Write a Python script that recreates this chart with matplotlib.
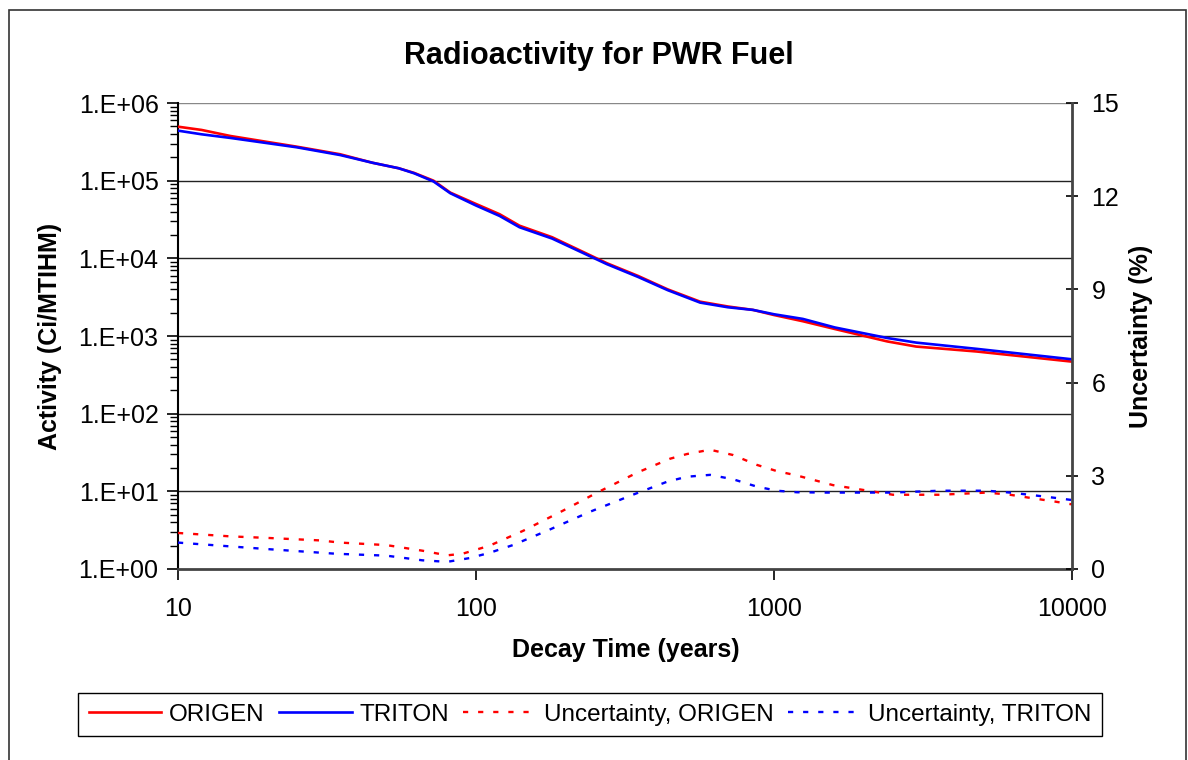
import matplotlib
matplotlib.use("Agg")
import matplotlib.pyplot as plt
from matplotlib.patches import Rectangle
from matplotlib.ticker import LogLocator, NullFormatter, FixedLocator

plt.rcParams['font.family'] = ['Liberation Sans', 'DejaVu Sans']

# Activity (Ci/MTIHM) - log10 values
act_years = [10, 12, 15, 25, 35, 45, 55, 62, 72, 82, 100, 120, 140, 180, 275, 350,
             440, 565, 700, 850, 1000, 1250, 1600, 2400, 3000, 4800, 10000]
origen_log = [5.695, 5.653, 5.575, 5.438, 5.34, 5.23, 5.16, 5.10, 5.00, 4.846, 4.70,
              4.568, 4.42, 4.272, 3.937, 3.773, 3.60, 3.442, 3.38, 3.336, 3.27,
              3.19, 3.09, 2.93, 2.864, 2.80, 2.67]
triton_log = [5.644, 5.597, 5.55, 5.43, 5.33, 5.23, 5.16, 5.095, 4.99, 4.838, 4.68,
              4.546, 4.40, 4.255, 3.925, 3.76, 3.59, 3.43, 3.37, 3.336, 3.28,
              3.22, 3.11, 2.974, 2.915, 2.834, 2.70]
origen_act = [10 ** v for v in origen_log]
triton_act = [10 ** v for v in triton_log]

# Uncertainty (%)
unc_o_years = [10, 15, 20, 30, 35, 50, 66, 80, 90, 111, 144, 196, 255, 347, 448, 510,
               610, 728, 877, 1023, 1194, 1577, 2099, 2506, 3603, 5186, 6194, 7343,
               8771, 10000]
unc_origen = [1.16, 1.05, 1.0, 0.92, 0.85, 0.77, 0.59, 0.44, 0.49, 0.75, 1.23, 1.88,
              2.46, 3.10, 3.55, 3.70, 3.84, 3.67, 3.35, 3.15, 3.01, 2.70, 2.51, 2.39,
              2.39, 2.46, 2.39, 2.28, 2.17, 2.08]
unc_t_years = [10, 20, 34, 50, 66, 80, 95, 111, 133, 173, 241, 336, 438, 510, 610, 728,
               877, 1023, 1194, 1500, 2500, 3600, 5186, 6194, 7343, 8771, 10000]
unc_triton = [0.85, 0.64, 0.49, 0.43, 0.28, 0.23, 0.35, 0.52, 0.77, 1.23, 1.84, 2.39,
              2.81, 2.97, 3.03, 2.89, 2.65, 2.52, 2.47, 2.46, 2.46, 2.52, 2.52, 2.46,
              2.38, 2.29, 2.22]

left_ticks = [1e0, 1e1, 1e2, 1e3, 1e4, 1e5, 1e6]
left_labels = ['1.E+00', '1.E+01', '1.E+02', '1.E+03', '1.E+04', '1.E+05', '1.E+06']
right_ticks = [0, 3, 6, 9, 12, 15]
x_ticks = [10, 100, 1000, 10000]
x_labels = ['10', '100', '1000', '10000']

W, H = 1188, 760
fig = plt.figure(figsize=(W / 100, H / 100), dpi=100)
fig.patches.append(Rectangle((8.5 / W, -0.05), (1186 - 8.5) / W, 1.05 - 10.5 / H,
                             transform=fig.transFigure, fill=False,
                             edgecolor='#333333', linewidth=1.2))

ax = fig.add_axes([178 / W, 1 - 569 / H, (1072 - 178) / W, (569 - 103) / H])
ax.set_xscale('log')
ax.set_yscale('log')
ax.set_xlim(10, 10000)
ax.set_ylim(1, 1e6)

for y in left_ticks[1:]:
    ax.axhline(y, color='#222222' if y < 1e6 else '#888888', linewidth=1.0, zorder=1)

l1, = ax.plot(act_years, origen_act, color='#ff0000', linewidth=1.9, zorder=3, label='ORIGEN')
l2, = ax.plot(act_years, triton_act, color='#0000ff', linewidth=1.9, zorder=4, label='TRITON')

ax.yaxis.set_major_locator(FixedLocator(left_ticks))
ax.set_yticklabels(left_labels)
ax.yaxis.set_minor_locator(LogLocator(base=10, subs=range(2, 10), numticks=20))
ax.yaxis.set_minor_formatter(NullFormatter())
ax.xaxis.set_major_locator(FixedLocator(x_ticks))
ax.set_xticklabels(x_labels)
ax.xaxis.set_minor_locator(FixedLocator([]))

ax.tick_params(axis='both', which='major', labelsize=18, length=8, width=1.2,
               direction='out', pad=6, colors='black')
ax.tick_params(axis='x', which='major', pad=12)
ax.tick_params(axis='y', which='minor', length=6, width=1.0, direction='out')
for s in ['top', 'right']:
    ax.spines[s].set_visible(False)
ax.spines['left'].set_color('black')
ax.spines['left'].set_linewidth(1.5)
ax.spines['bottom'].set_color('#444444')
ax.spines['bottom'].set_linewidth(2.0)

ax2 = ax.twinx()
ax2.set_ylim(0, 15)
ax2.set_yticks(right_ticks)
ax2.tick_params(axis='y', labelsize=18, length=8, width=1.2, direction='inout', pad=10)
for s in ['top', 'left', 'bottom']:
    ax2.spines[s].set_visible(False)
ax2.spines['right'].set_color('#444444')
ax2.spines['right'].set_linewidth(2.0)
l3, = ax2.plot(unc_o_years, unc_origen, color='#ff0000', linewidth=1.7,
               linestyle=(0, (2.2, 4.2)), label='Uncertainty, ORIGEN')
l4, = ax2.plot(unc_t_years, unc_triton, color='#0000ff', linewidth=1.7,
               linestyle=(0, (2.2, 4.2)), label='Uncertainty, TRITON')

fig.text(599 / W, 1 - 56 / H, 'Radioactivity for PWR Fuel', ha='center', va='center',
         fontsize=22, fontweight='bold')
fig.text(626 / W, 1 - 650 / H, 'Decay Time (years)', ha='center', va='center',
         fontsize=18, fontweight='bold')
fig.text(50 / W, 1 - 336 / H, 'Activity (Ci/MTIHM)', ha='center', va='center',
         rotation=90, fontsize=18, fontweight='bold')
fig.text(1141 / W, 1 - 336 / H, 'Uncertainty (%)', ha='center', va='center',
         rotation=90, fontsize=18, fontweight='bold')

leg = fig.legend(handles=[l1, l2, l3, l4], loc='center', ncol=4,
                 bbox_to_anchor=(590 / W, 1 - 714.5 / H), fontsize=17.5,
                 frameon=True, fancybox=False, edgecolor='black', framealpha=1,
                 handlelength=3.0, handletextpad=0.3, columnspacing=0.6,
                 borderpad=0.45, borderaxespad=0)
leg.get_frame().set_linewidth(1.0)

fig.savefig('out.png', dpi=100)
